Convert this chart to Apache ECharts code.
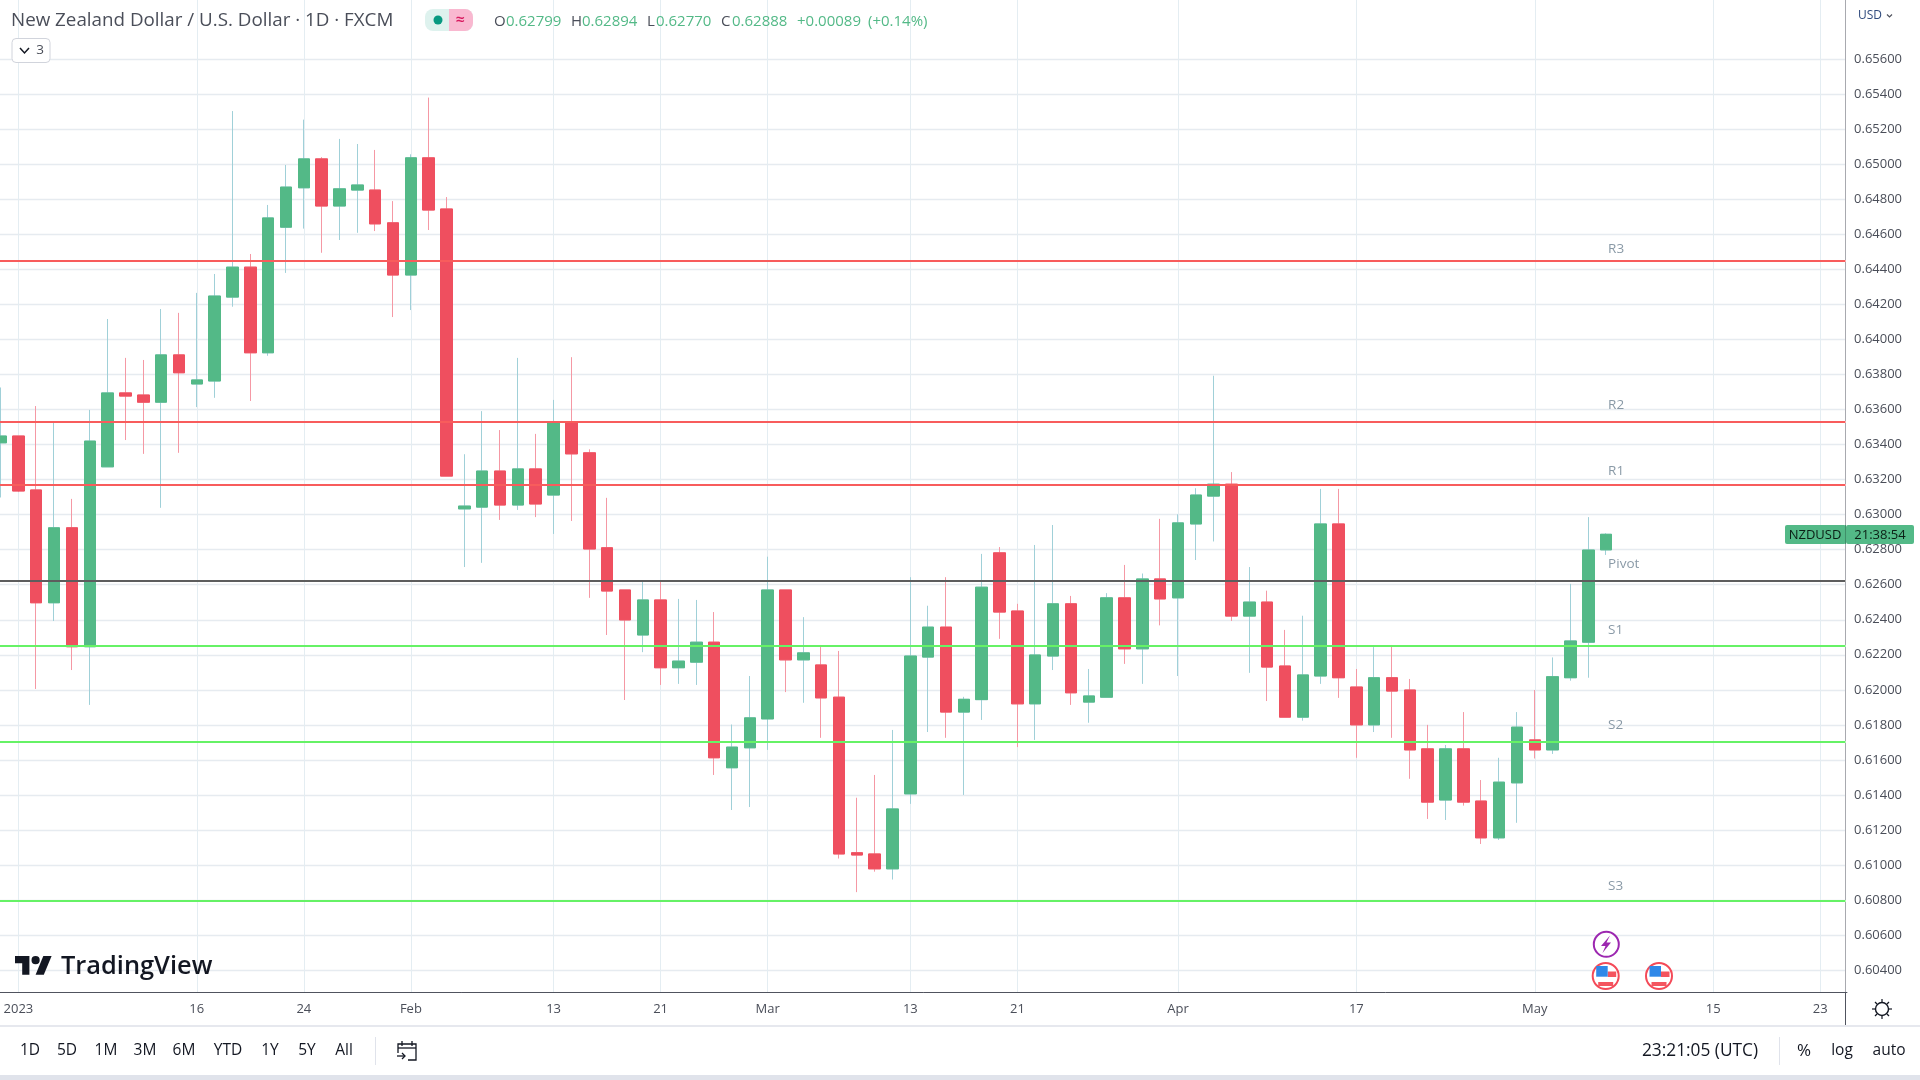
<!DOCTYPE html>
<html>
<head>
<meta charset="utf-8">
<style>html,body{margin:0;padding:0;background:#fff}#chart{width:1920px;height:1080px}</style>
<script src="https://cdn.jsdelivr.net/npm/echarts@6/dist/echarts.min.js"></script>
</head>
<body>
<div id="chart"></div>
<script>
// trading days shown on the time scale, last ones have no candle yet
var days = [
  '12-30',
  '01-02','01-03','01-04','01-05','01-06','01-09','01-10','01-11','01-12','01-13',
  '01-16','01-17','01-18','01-19','01-20','01-23','01-24','01-25','01-26','01-27',
  '01-30','01-31','02-01','02-02','02-03','02-06','02-07','02-08','02-09','02-10',
  '02-13','02-14','02-15','02-16','02-17','02-20','02-21','02-22','02-23','02-24',
  '02-27','02-28','03-01','03-02','03-03','03-06','03-07','03-08','03-09','03-10',
  '03-13','03-14','03-15','03-16','03-17','03-20','03-21','03-22','03-23','03-24',
  '03-27','03-28','03-29','03-30','03-31','04-03','04-04','04-05','04-06','04-07',
  '04-10','04-11','04-12','04-13','04-14','04-17','04-18','04-19','04-20','04-21',
  '04-24','04-25','04-26','04-27','04-28','05-01','05-02','05-03','05-04','05-05',
  '05-08','05-09','05-10','05-11','05-12','05-15','05-16','05-17','05-18','05-19',
  '05-22','05-23','05-24'
];
var timeTicks = {
  '01-02': '2023', '01-16': '16', '01-24': '24', '02-01': 'Feb', '02-13': '13', '02-21': '21',
  '03-01': 'Mar', '03-13': '13', '03-21': '21', '04-03': 'Apr', '04-17': '17', '05-01': 'May',
  '05-15': '15', '05-23': '23'
};
var opens = [
  .63410,.63449,.63141,.62497,.62925,.62246,.63273,.63695,.63683,.63642,
  .63912,.63746,.63763,.64242,.64413,.63924,.64641,.64866,.65031,.64762,
  .64853,.64853,.64666,.64368,.65037,.64745,.63033,.63043,.63249,.63055,
  .63261,.63112,.63526,.63353,.62811,.62570,.62313,.62513,.62126,.62158,
  .62272,.61555,.61669,.61834,.62570,.62171,.62142,.61958,.61070,.61063,
  .60978,.61406,.62187,.62358,.61873,.61944,.62782,.62450,.61920,.62193,
  .62491,.61930,.61958,.62525,.62234,.62633,.62525,.62947,.63106,.63174,
  .62421,.62501,.62136,.61844,.62079,.62947,.62016,.61800,.62069,.61999,
  .61663,.61371,.61663,.61365,.61155,.61469,.61714,.61657,.62069,.62272,
  .62799
];
var highs = [
  .63726,.63449,.63620,.63528,.63090,.63598,.64117,.63895,.63883,.64174,
  .64152,.64266,.64374,.65304,.64488,.64768,.64996,.65255,.65041,.65145,
  .65116,.65082,.64790,.65057,.65381,.64813,.63345,.63591,.63483,.63895,
  .63461,.63655,.63899,.63373,.63096,.62570,.62623,.62619,.62519,.62513,
  .62444,.61802,.62079,.62760,.62570,.62415,.62256,.62222,.61384,.61514,
  .61771,.62643,.62480,.62643,.61960,.62776,.62815,.62491,.62827,.62941,
  .62536,.62119,.62552,.62713,.62664,.62976,.63002,.63151,.63793,.63243,
  .62701,.62566,.62342,.62423,.63147,.63147,.62119,.62244,.62256,.62062,
  .61800,.61685,.61873,.61485,.61612,.61873,.61999,.62185,.62605,.62986,
  .62894
];
var lows = [
  .63098,.63129,.62005,.62393,.62113,.61914,.63273,.63426,.63347,.63039,
  .63353,.63614,.63667,.64187,.63649,.63907,.64380,.64633,.64495,.64568,
  .64609,.64619,.64128,.64168,.64625,.63220,.62701,.62725,.62970,.63027,
  .62986,.62890,.62964,.62525,.62313,.61942,.62215,.62028,.62034,.62028,
  .61514,.61314,.61331,.61657,.61987,.61926,.61726,.61037,.60845,.60962,
  .60917,.61349,.61759,.61726,.61400,.61828,.62291,.61673,.61714,.62113,
  .61914,.61812,.61958,.62148,.62034,.62368,.62079,.62741,.62847,.62393,
  .62097,.61936,.61844,.61824,.62034,.61954,.61612,.61759,.61726,.61492,
  .61263,.61257,.61339,.61120,.61143,.61241,.61608,.61634,.62052,.62069,
  .62770
];
var closes = [
  .63449,.63135,.62497,.62925,.62246,.63420,.63695,.63677,.63642,.63912,
  .63810,.63769,.64248,.64413,.63924,.64694,.64870,.65031,.64762,.64860,
  .64882,.64660,.64368,.65037,.64739,.63220,.63049,.63249,.63055,.63261,
  .63061,.63526,.63347,.62804,.62564,.62399,.62513,.62126,.62164,.62272,
  .61612,.61673,.61840,.62570,.62171,.62211,.61954,.61063,.61057,.60978,
  .61320,.62193,.62358,.61873,.61946,.62586,.62444,.61920,.62199,.62491,
  .61983,.61965,.62525,.62234,.62633,.62519,.62953,.63112,.63174,.62421,
  .62501,.62130,.61844,.62085,.62947,.62069,.61800,.62069,.61993,.61657,
  .61359,.61663,.61359,.61155,.61473,.61787,.61657,.62075,.62279,.62798,
  .62888
];
var priceTicks = [
  .604,.606,.608,.610,.612,.614,.616,.618,.620,.622,.624,.626,.628,
  .630,.632,.634,.636,.638,.640,.642,.644,.646,.648,.650,.652,.654,.656
];
var pivotNames = ['R3', 'R2', 'R1', 'Pivot', 'S1', 'S2', 'S3'];
var pivotValues = [.64448, .63531, .63170, .62624, .62253, .61706, .60796];
var pivotLabelLift = [-12, -16, -14, -16, -15, -16, -15];

var FONT = '"Open Sans", "Noto Sans", sans-serif';
var UP = '#53b987', DOWN = '#ef4f5f';
var UP_WICK = '#a0d0d8', DOWN_WICK = '#f598a4';

var wickData = opens.map(function (o, i) { return [o, closes[i], lows[i], highs[i]]; });
var bodyData = opens.map(function (o, i) {
  return [o, closes[i], Math.min(o, closes[i]), Math.max(o, closes[i])];
});
function isTimeTick(i) { return timeTicks[days[i]] !== undefined; }
function pivotColor(name) {
  return name === 'Pivot' ? '#5d5d5d' : (name.charAt(0) === 'R' ? '#f85c5c' : '#66f266');
}

function txt(x, y, text, size, color, align, extra) {
  return {
    type: 'text', x: x, y: y, z: 20, silent: true,
    style: Object.assign({
      text: text, fontFamily: FONT, fontSize: size, fill: color,
      align: align || 'left', verticalAlign: 'middle'
    }, extra || {})
  };
}
function box(x, y, w, h, fill, r, stroke) {
  return {
    type: 'rect', z: 19, silent: true,
    shape: { x: x, y: y, width: w, height: h, r: r || 0 },
    style: { fill: fill, stroke: stroke || null, lineWidth: stroke ? 1 : 0 }
  };
}
function poly(points, fill) {
  return { type: 'polygon', z: 20, silent: true, shape: { points: points }, style: { fill: fill } };
}
function stroke(points, color, width) {
  return { type: 'polyline', z: 20, silent: true, shape: { points: points }, style: { stroke: color, lineWidth: width, fill: null } };
}
function flag(cx, cy) {
  return [
    { type: 'circle', z: 19, silent: true, shape: { cx: cx, cy: cy, r: 13 }, style: { fill: '#fff', stroke: '#f44a58', lineWidth: 2 } },
    box(cx + 2, cy - 4.5, 8.5, 5.5, '#f4555f'),
    box(cx - 7.5, cy + 6, 15, 4, '#f4555f'),
    box(cx - 9.5, cy - 10, 11.5, 10.7, '#2f88e8')
  ];
}
// gear on the time scale corner, one spoke per direction
var sunSpokes = [
  [[1882, 999], [1882, 1002]], [[1882, 1016], [1882, 1019]], [[1872, 1009], [1875, 1009]], [[1889, 1009], [1892, 1009]],
  [[1875, 1002], [1877, 1004]], [[1887, 1014], [1889, 1016]], [[1875, 1016], [1877, 1014]], [[1887, 1004], [1889, 1002]]
];

var toolbarLeft = [['1D', 30], ['5D', 67], ['1M', 106], ['3M', 145], ['6M', 184], ['YTD', 228], ['1Y', 270], ['5Y', 307], ['All', 344]];
var graphics = [
  box(1845.5, 0, 2, 992, '#fff'),
  box(0, 1075, 1920, 5, '#e0e3eb'),
  box(0, 1025, 1920, 2, '#e6e8ee'),
  box(1845, 992, 1, 33, '#50535e'),
  box(375, 1037, 1, 28, '#e0e3eb'),
  box(1779, 1037, 1, 28, '#e0e3eb'),
  txt(11, 21, 'New Zealand Dollar / U.S. Dollar · 1D · FXCM', 18.8, '#4a4e59'),
  box(425, 9, 48, 22, '#def2ee', 8),
  box(449, 9, 24, 22, '#f9b8d0', 8),
  box(449, 9, 8, 22, '#f9b8d0'),
  { type: 'circle', z: 20, silent: true, shape: { cx: 438, cy: 20, r: 4.5 }, style: { fill: '#089981' } },
  txt(460, 20, '≈', 16, '#d81b60', 'center', { fontWeight: 600 }),
  txt(494, 22, 'O', 15, '#4a4e59'),
  txt(506, 22, '0.62799', 15, UP),
  txt(571, 22, 'H', 15, '#4a4e59'),
  txt(582, 22, '0.62894', 15, UP),
  txt(647, 22, 'L', 15, '#4a4e59'),
  txt(656, 22, '0.62770', 15, UP),
  txt(721, 22, 'C', 15, '#4a4e59'),
  txt(732, 22, '0.62888', 15, UP),
  txt(797, 22, '+0.00089', 15, UP),
  txt(868, 22, '(+0.14%)', 15, UP),
  box(12, 38.5, 38, 24, '#fff', 4, '#d1d4dc'),
  stroke([[20, 48], [24.5, 53], [29, 48]], '#131722', 1.5),
  txt(40, 50, '3', 13.5, '#4a4e59', 'center'),
  txt(1858, 16, 'USD', 12, '#2f4a7d'),
  stroke([[1887, 14.5], [1889.5, 17], [1892, 14.5]], '#50535e', 1.2),
  box(1785, 525, 61, 19, UP, 2),
  box(1846, 525, 68, 19, UP, 2),
  box(1845, 525, 1, 19, '#3f8f69'),
  txt(1815, 535, 'NZDUSD', 13, '#0c1f15', 'center'),
  txt(1880, 535, '21:38:54', 13, '#0c1f15', 'center'),
  poly([[29.4, 974.7], [22.2, 974.7], [22.2, 963.3], [15, 963.3], [15, 956.1], [29.4, 956.1]], '#131722'),
  poly([[43.8, 974.7], [35.6, 974.7], [43.3, 956.1], [51.6, 956.1]], '#131722'),
  { type: 'circle', z: 20, silent: true, shape: { cx: 35.6, cy: 960.2, r: 4.1 }, style: { fill: '#131722' } },
  txt(61, 967, 'TradingView', 25.4, '#131722', 'left', { fontWeight: 600 }),
  { type: 'circle', z: 19, silent: true, shape: { cx: 1606.3, cy: 944.3, r: 12.5 }, style: { fill: '#fff', stroke: '#9c27b0', lineWidth: 2 } },
  poly([[1610, 935.5], [1601, 946], [1605.5, 946], [1602.5, 953], [1611, 942.5], [1606.5, 942.5]], '#9c27b0'),
  txt(1700, 1051, '23:21:05 (UTC)', 17.3, '#131722', 'center'),
  txt(1804, 1051, '%', 17, '#131722', 'center'),
  txt(1842, 1051, 'log', 15.5, '#131722', 'center'),
  txt(1889, 1051, 'auto', 15.5, '#131722', 'center'),
  { type: 'circle', z: 20, silent: true, shape: { cx: 1882, cy: 1009, r: 6.5 }, style: { fill: null, stroke: '#131722', lineWidth: 1.4 } },
  stroke([[408, 1060], [416, 1060], [416, 1044], [398, 1044], [398, 1053]], '#131722', 1.3),
  stroke([[398, 1048], [416, 1048]], '#131722', 1.3),
  stroke([[402, 1041], [402, 1046]], '#131722', 1.3),
  stroke([[412, 1041], [412, 1046]], '#131722', 1.3),
  stroke([[397, 1056], [405, 1056]], '#131722', 1.3),
  stroke([[402, 1053], [405, 1056], [402, 1059]], '#131722', 1.3)
].concat(flag(1605.7, 976), flag(1659, 976), sunSpokes.map(function (s) {
  return stroke(s, '#131722', 1.2);
}), toolbarLeft.map(function (t) {
  return txt(t[1], 1051, t[0], 15.5, '#131722', 'center');
}));

var chart = echarts.init(document.getElementById('chart'), null, { renderer: 'canvas' });
chart.setOption({
  animation: false,
  backgroundColor: '#ffffff',
  grid: { left: -8.36, top: 0, width: 1855.3, height: 992, containLabel: false, outerBoundsMode: 'none' },
  xAxis: {
    type: 'category',
    data: days,
    axisLine: { lineStyle: { color: '#50535e', width: 1 } },
    axisTick: { show: false },
    axisLabel: {
      interval: function (i) { return isTimeTick(i); },
      formatter: function (v) { return timeTicks[v]; },
      color: '#4a4e59', fontFamily: FONT, fontSize: 13, margin: 11
    },
    splitLine: {
      show: true,
      alignWithLabel: true,
      interval: function (i) { return isTimeTick(i); },
      lineStyle: { color: '#e4edf2', width: 1 }
    }
  },
  yAxis: {
    type: 'value',
    position: 'right',
    offset: -1.9,
    min: 0.60275,
    max: 0.65938,
    axisLine: { show: true, lineStyle: { color: '#50535e', width: 1 } },
    axisTick: { show: false, customValues: priceTicks },
    axisLabel: {
      customValues: priceTicks,
      formatter: function (v) { return v.toFixed(5); },
      color: '#4a4e59', fontFamily: FONT, fontSize: 13, margin: 9, padding: [2, 0, 0, 0]
    },
    splitLine: { show: true, lineStyle: { color: '#e6ebf0', width: 1.4 } }
  },
  series: [
    {
      type: 'line', z: 1, data: [], silent: true,
      markLine: {
        silent: true, symbol: 'none', animation: false, precision: 5, label: { show: false },
        data: pivotNames.map(function (n, i) {
          return { yAxis: pivotValues[i], lineStyle: { color: pivotColor(n), width: 2, type: 'solid' } };
        })
      }
    },
    {
      type: 'candlestick', z: 3, silent: true, barWidth: 12, data: wickData,
      itemStyle: { color: UP_WICK, color0: DOWN_WICK, borderColor: UP_WICK, borderColor0: DOWN_WICK, borderWidth: 1 }
    },
    {
      type: 'candlestick', z: 4, silent: true, barWidth: 12, data: bodyData,
      itemStyle: { color: UP, color0: DOWN, borderColor: UP, borderColor0: DOWN, borderWidth: 1 }
    },
    {
      type: 'scatter', z: 5, silent: true, symbolSize: 0,
      data: pivotNames.map(function (n, i) { return [days[90], pivotValues[i]]; }),
      label: {
        show: true, position: 'right', distance: 2,
        color: '#6b7f90', fontFamily: FONT, fontSize: 13.5,
        formatter: function (p) { return pivotNames[p.dataIndex]; }
      },
      labelLayout: function (p) { return { dy: pivotLabelLift[p.dataIndex] }; }
    }
  ],
  graphic: graphics
});
</script>
</body>
</html>
